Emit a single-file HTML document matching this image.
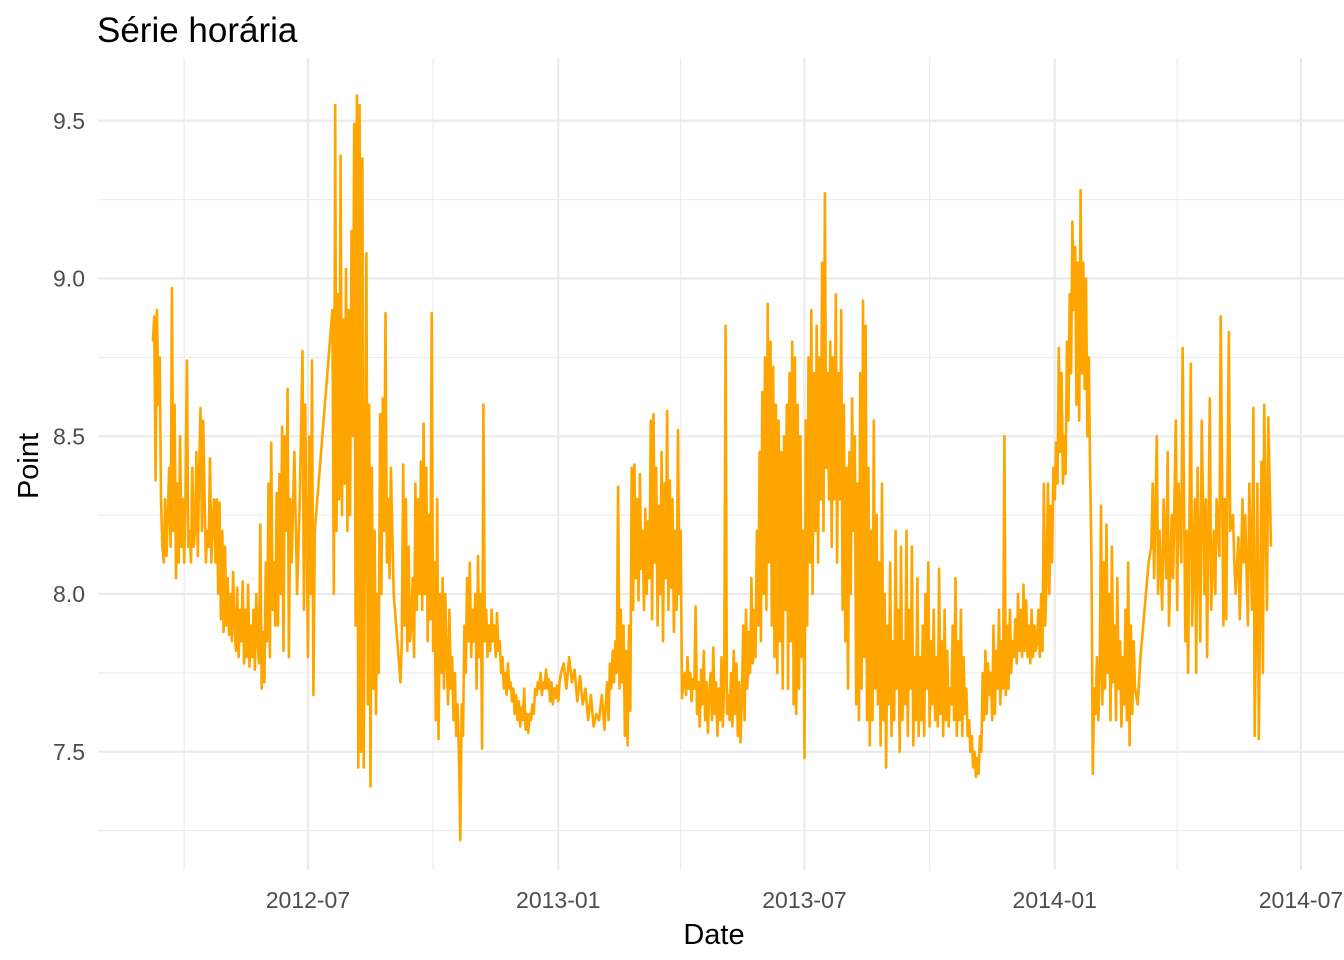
<!DOCTYPE html>
<html><head><meta charset="utf-8"><style>
html,body{margin:0;padding:0;background:#fff;}
svg{display:block;font-family:"Liberation Sans",sans-serif;}
</style></head><body>
<svg id="chart" width="1344" height="960" viewBox="0 0 1344 960">
<rect x="0" y="0" width="1344" height="960" fill="#fff"/>
<g id="grid"></g>
<g id="series"></g>
<g id="axes"></g>
<text x="97" y="42" font-size="35" fill="#000">Série horária</text>
<text x="714" y="944" font-size="29" text-anchor="middle" fill="#000">Date</text>
<text transform="translate(38,466) rotate(-90)" font-size="29" text-anchor="middle" fill="#000">Point</text>
</svg>
<script>
// days since 2012-03-01
const dayOffsets = [
8,9,10,11,12,13,14,15,16,17,18,19,20,21,22,23,24,25,26,27,28,29,30,31,32,33,34,35,36,37,38,39,40,41,42,43,44,45,46,47,48,49,50,51,52,53,54,55,56,57,58,59,60,61,62,63,64,65,66,67,68,69,70,71,72,73,74,75,76,77,78,79,80,81,82,83,84,85,86,87,88,89,90,91,92,93,94,95,96,97,98,99,100,101,102,103,104,105,106,107,108,109,
110,112,114,116,118,119,120,122,123,124,125,126,127,140,
141,142,143,144,145,146,147,148,149,150,151,152,153,154,155,156,157,158,159,160,161,162,163,164,165,166,167,168,169,170,171,172,173,174,175,176,177,178,179,180,181,182,
183,185,190,
191,192,193,194,195,196,197,198,199,200,201,202,203,204,205,206,207,208,209,210,211,212,213,214,215,216,217,218,219,220,221,222,223,224,225,226,227,228,229,230,231,232,233,234,235,236,237,238,239,240,241,242,243,244,245,246,247,248,249,250,251,252,253,254,255,256,257,258,259,260,261,262,263,264,265,266,267,268,269,270,271,272,273,274,275,276,277,278,279,280,281,282,283,284,285,286,287,288,289,290,291,292,293,294,295,296,297,298,299,300,301,302,303,304,305,306,307,
308,310,312,314,316,318,320,322,324,326,328,330,332,334,336,338,340,
341,342,343,344,345,346,347,348,349,350,351,352,353,354,355,356,357,358,359,360,361,362,363,364,365,366,367,368,369,370,371,372,373,374,375,376,377,378,379,380,381,382,383,384,385,386,387,388,389,390,391,392,393,394,395,396,397,398,399,400,
401,402,403,404,405,406,407,408,409,410,411,412,413,414,415,416,417,418,419,420,421,422,423,424,425,426,427,428,429,430,431,432,433,434,435,436,437,438,439,440,441,442,443,444,445,446,447,448,449,450,451,452,453,454,455,456,457,458,459,460,461,462,463,464,465,466,467,468,469,470,471,472,473,474,475,476,477,478,479,480,481,482,483,484,485,486,487,488,489,490,491,492,493,494,495,496,497,498,499,500,
501,502,503,504,505,506,507,508,509,510,511,512,513,514,515,516,517,518,519,520,521,522,523,524,525,526,527,528,529,530,531,532,533,534,535,536,537,538,539,540,541,542,543,544,545,546,547,548,549,550,551,552,553,554,555,556,557,558,559,560,561,562,563,564,565,566,567,568,569,570,571,572,573,574,575,576,577,578,579,580,581,582,583,584,585,586,587,588,589,590,591,592,593,594,595,
596,597,598,599,600,601,602,603,604,605,606,607,608,609,610,611,612,613,614,615,616,617,618,619,620,621,622,623,624,625,626,627,628,629,630,631,632,633,634,635,636,637,638,639,640,641,642,643,644,645,646,647,648,649,650,651,652,653,654,655,656,657,
658,659,660,661,662,663,664,665,
666,667,668,669,670,671,672,673,674,675,676,677,678,679,680,681,682,683,684,685,686,687,688,689,690,691,692,693,694,695,696,697,698,699,700,
701,702,703,704,705,706,707,708,709,710,711,712,713,714,715,716,717,718,719,720,721,722,723,724,725,726,727,728,729,730,
732,734,736,738,740,742,
743,744,746,747,748,750,751,753,754,755,757,758,760,761,762,764,765,767,768,769,771,772,774,775,776,778,779,781,782,783,785,786,788,789,790,792,793,795,796,797,799,800,802,803,804,806,807,809,810,811,813,814,816,817,818,820,821,823,824,825,827,828,830
];
const values = [
8.8,8.88,8.36,8.9,8.6,8.75,8.3,8.15,8.1,8.3,8.12,8.25,8.4,8.15,8.97,8.2,8.6,8.05,8.35,8.1,8.5,8.15,8.3,8.1,8.3,8.74,8.15,8.2,8.1,8.4,8.15,8.2,8.45,8.12,8.38,8.59,8.2,8.55,8.3,8.1,8.2,8.15,8.43,8.1,8.23,8.3,8.1,8.3,8.0,8.29,7.92,8.2,7.88,8.15,7.9,8.05,7.87,8.0,7.85,8.07,7.9,7.82,8.02,7.8,7.95,7.85,8.04,7.78,7.95,7.8,8.03,7.77,7.9,7.8,7.95,7.76,8.0,7.85,7.78,8.22,7.7,7.88,7.72,8.1,7.85,8.35,7.8,8.48,7.95,8.1,7.9,8.32,7.9,8.38,8.0,8.53,7.82,8.5,8.2,8.65,7.8,8.3,
8.1,8.45,8.0,8.3,8.77,7.95,8.6,7.8,8.5,8.0,8.74,7.68,8.2,8.9,
8.0,9.55,8.2,8.95,8.3,9.39,8.25,8.87,8.35,9.03,8.2,8.9,8.25,9.15,8.5,9.49,7.9,9.58,7.45,9.55,7.5,9.38,7.45,8.3,9.08,7.65,8.6,7.39,8.4,7.7,8.2,7.62,8.0,7.75,8.57,8.0,8.62,8.2,8.89,8.1,8.3,8.05,
8.4,8.0,7.72,
7.85,8.41,7.9,8.3,7.82,8.15,7.85,7.9,8.05,7.8,8.35,7.95,8.3,8.0,8.42,7.95,8.54,8.0,8.4,7.85,8.25,7.92,8.89,7.82,8.1,7.6,8.3,7.54,8.0,7.75,8.05,7.7,8.0,7.8,7.65,7.95,7.7,7.8,7.6,7.75,7.55,7.65,7.5,7.22,7.65,7.55,7.9,7.75,8.05,7.85,8.1,7.8,7.95,7.85,8.0,7.7,8.12,7.8,8.0,7.51,8.6,7.85,7.95,7.8,7.9,7.82,7.95,7.85,7.9,7.8,7.94,7.82,7.85,7.75,7.8,7.7,7.75,7.68,7.78,7.7,7.72,7.66,7.7,7.62,7.68,7.6,7.66,7.58,7.64,7.6,7.7,7.57,7.62,7.56,7.62,7.6,7.65,7.62,7.7,7.68,7.72,7.7,7.75,7.68,7.72,7.7,7.76,7.7,7.73,7.66,7.72,7.65,7.7,7.67,7.71,7.66,7.72,
7.75,7.78,7.7,7.8,7.72,7.76,7.66,7.74,7.65,7.7,7.6,7.68,7.58,7.62,7.6,7.68,7.57,
7.66,7.72,7.6,7.78,7.7,7.82,7.72,7.85,7.75,8.34,7.7,7.95,7.72,7.9,7.55,7.82,7.52,7.9,7.63,8.4,7.95,8.41,8.05,8.3,7.98,8.38,8.08,8.2,7.95,8.27,8.0,8.23,8.05,8.55,7.92,8.57,8.1,8.4,7.9,8.28,8.0,8.45,7.85,8.35,8.05,8.58,7.95,8.36,8.02,8.3,7.88,8.2,7.95,8.52,8.0,8.2,7.67,7.72,7.75,7.68,
7.8,7.7,7.75,7.66,7.73,7.7,7.96,7.62,7.72,7.58,7.76,7.65,7.82,7.6,7.72,7.56,7.68,7.75,7.6,7.83,7.62,7.72,7.55,7.7,7.6,7.8,7.58,7.72,8.85,7.62,7.68,7.6,7.75,7.58,7.82,7.62,7.78,7.55,7.72,7.53,7.68,7.9,7.6,7.95,7.7,7.88,7.75,8.05,7.78,7.95,7.8,8.2,7.9,8.45,7.85,8.64,8.0,8.75,7.95,8.92,8.1,8.8,7.9,8.72,7.8,8.6,7.75,8.55,7.85,8.45,7.7,8.5,7.95,8.6,7.7,8.7,7.85,8.8,7.65,8.75,7.62,8.6,7.7,8.5,7.8,8.2,7.48,8.55,7.9,8.75,8.1,8.9,8.0,8.7,8.2,8.85,8.1,8.75,8.3,9.05,
8.2,9.27,8.4,8.7,8.3,8.8,8.15,8.75,8.3,8.95,8.1,8.7,8.3,8.9,7.95,8.6,7.85,8.4,7.7,8.45,8.0,8.62,8.2,8.5,7.65,8.35,7.6,8.7,7.7,8.93,7.8,8.85,7.6,8.4,7.52,8.2,7.6,8.55,7.7,8.25,7.65,8.1,7.52,8.35,7.6,8.0,7.45,7.9,7.65,8.1,7.55,7.85,7.6,8.2,7.7,7.95,7.5,8.15,7.6,7.85,7.65,8.2,7.55,7.95,7.7,8.15,7.52,7.8,7.6,8.05,7.55,7.8,7.6,7.9,7.55,8.0,7.7,8.1,7.58,7.85,7.65,7.95,7.6,7.8,7.58,8.08,7.62,7.85,7.55,7.95,7.6,7.82,7.58,7.7,7.65,
7.9,7.6,8.05,7.55,7.85,7.6,7.95,7.55,7.8,7.62,7.7,7.55,7.6,7.5,7.55,7.45,7.5,7.42,7.48,7.43,7.55,7.5,7.75,7.6,7.82,7.62,7.78,7.68,7.75,7.6,7.9,7.62,7.82,7.7,7.95,7.65,7.85,7.7,8.5,7.68,7.9,7.7,7.95,7.75,7.85,7.8,7.92,7.78,8.0,7.82,7.95,7.8,8.03,7.82,7.98,7.8,7.9,7.78,7.95,7.8,7.9,7.82,
7.85,7.95,7.8,8.0,7.82,8.35,7.9,8.05,
8.35,8.0,8.28,8.1,8.4,8.3,8.48,8.35,8.78,8.45,8.7,8.35,8.5,8.38,8.8,8.55,8.95,8.7,9.18,8.9,9.1,8.6,9.05,8.55,9.28,8.7,9.05,8.65,9.0,8.5,8.75,8.4,8.1,7.43,7.7,
7.62,7.8,7.6,7.75,8.28,7.65,8.1,7.7,8.22,7.75,8.0,7.6,8.15,7.72,7.9,7.6,8.05,7.7,7.85,7.58,7.8,7.65,7.95,7.6,8.1,7.52,7.9,7.62,7.85,7.7,
7.65,7.8,7.9,8.0,8.1,8.15,
8.35,8.05,8.5,8.0,8.2,7.95,8.3,8.05,8.45,7.9,8.25,8.05,8.55,7.95,8.35,8.1,8.78,7.85,8.2,7.75,8.73,7.9,8.3,7.75,8.4,7.85,8.55,8.0,8.3,7.8,8.62,7.95,8.2,8.0,8.3,8.12,8.88,7.9,8.3,7.92,8.83,8.2,8.25,8.1,8.0,8.18,7.92,8.3,8.1,8.25,7.9,8.35,7.95,8.59,7.55,8.35,7.54,8.42,7.75,8.6,7.95,8.56,8.15
];
const yMajorTicks = [7.5, 8.0, 8.5, 9.0, 9.5];
const yTickLabels = ["7.5", "8.0", "8.5", "9.0", "9.5"];
const yMinorTicks = [7.25, 7.75, 8.25, 8.75, 9.25];
const xMajorTicks = [122, 306, 487, 671, 852];
const xTickLabels = ["2012-07", "2013-01", "2013-07", "2014-01", "2014-07"];
const xMinorTicks = [31, 214, 396, 579, 761];

const NS = "http://www.w3.org/2000/svg";
const PL = 98, PR = 1344, PT = 58, PB = 870;
function xScale(d){ return 142 + d * 1.3603; }
function yScale(v){ return 594 - (v - 8) * 315.5; }
function mk(tag, attrs, parent){
  const el = document.createElementNS(NS, tag);
  for (const k in attrs) el.setAttribute(k, attrs[k]);
  parent.appendChild(el);
  return el;
}
const grid = document.getElementById('grid');
const axes = document.getElementById('axes');
yMinorTicks.forEach(v => {
  const l = mk('line', {x1:PL, x2:PR, y1:yScale(v), y2:yScale(v), stroke:'#ebebeb', 'stroke-width':1.1}, grid);
  
  
});
xMinorTicks.forEach(d => {
  const l = mk('line', {x1:xScale(d), x2:xScale(d), y1:PT, y2:PB, stroke:'#ebebeb', 'stroke-width':1.1}, grid);
  
  
});
yMajorTicks.forEach((v, i) => {
  const l = mk('line', {x1:PL, x2:PR, y1:yScale(v), y2:yScale(v), stroke:'#ebebeb', 'stroke-width':2.2}, grid);
  
  
  const t = mk('text', {x:85, y:yScale(v) + 8, 'font-size':23, fill:'#4d4d4d', 'text-anchor':'end'}, axes);
  t.textContent = yTickLabels[i];
  
  
});
xMajorTicks.forEach((d, i) => {
  const l = mk('line', {x1:xScale(d), x2:xScale(d), y1:PT, y2:PB, stroke:'#ebebeb', 'stroke-width':2.2}, grid);
  
  
  const t = mk('text', {x:xScale(d), y:908, 'font-size':23, fill:'#4d4d4d', 'text-anchor':'middle'}, axes);
  t.textContent = xTickLabels[i];
  
  
});
const n = Math.min(dayOffsets.length, values.length);
let dstr = '';
for (let i = 0; i < n; i++) {
  dstr += (i ? 'L' : 'M') + xScale(dayOffsets[i]).toFixed(1) + ',' + yScale(values[i]).toFixed(1);
}
const path = mk('path', {d:dstr, fill:'none', stroke:'#FFA500', 'stroke-width':2.6, 'stroke-linejoin':'round'}, document.getElementById('series'));


</script>
</body></html>
